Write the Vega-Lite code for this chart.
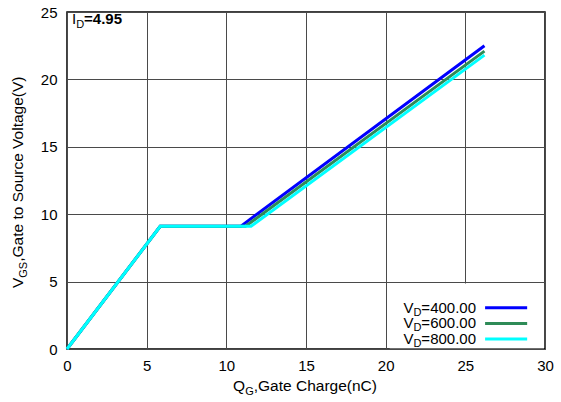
{
  "$schema": "https://vega.github.io/schema/vega-lite/v6.json",
  "width": 478,
  "height": 337,
  "autosize": {"type": "none"},
  "padding": {"left": 67, "top": 12, "right": 16, "bottom": 53},
  "background": "white",
  "config": {
    "font": "Liberation Sans",
    "view": {"stroke": "black", "strokeWidth": 1.5},
    "text": {"color": "black", "font": "Liberation Sans"},
    "axis": {
      "domain": false, "ticks": false, "labelFontSize": 15, "labelColor": "black",
      "labelFlush": false, "gridColor": "#4a4a4a", "gridWidth": 1, "gridOpacity": 1
    },
    "axisX": {"labelPadding": 9},
    "axisY": {"labelPadding": 10}
  },
  "datasets": {
    "curves": [
      {"vd": "400", "qg": 0, "vgs": 0},
      {"vd": "400", "qg": 5.85, "vgs": 9.1},
      {"vd": "400", "qg": 10.9, "vgs": 9.1},
      {"vd": "400", "qg": 26.2, "vgs": 22.5},
      {"vd": "600", "qg": 0, "vgs": 0},
      {"vd": "600", "qg": 5.85, "vgs": 9.1},
      {"vd": "600", "qg": 11.2, "vgs": 9.1},
      {"vd": "600", "qg": 26.2, "vgs": 22.1},
      {"vd": "800", "qg": 0, "vgs": 0},
      {"vd": "800", "qg": 5.85, "vgs": 9.1},
      {"vd": "800", "qg": 11.55, "vgs": 9.1},
      {"vd": "800", "qg": 26.2, "vgs": 21.8}
    ]
  },
  "data": {"values": [{}]},
  "layer": [
    {
      "data": {"name": "curves"},
      "mark": {"type": "line", "strokeWidth": 3, "strokeCap": "butt"},
      "encoding": {
        "x": {
          "field": "qg", "type": "quantitative", "title": null,
          "scale": {"domain": [0, 30], "nice": false, "zero": false},
          "axis": {"title": null, "values": [0, 5, 10, 15, 20, 25, 30]}
        },
        "y": {
          "field": "vgs", "type": "quantitative", "title": null,
          "scale": {"domain": [0, 25], "nice": false, "zero": false},
          "axis": {"title": null, "values": [0, 5, 10, 15, 20, 25]}
        },
        "color": {
          "field": "vd", "type": "nominal",
          "scale": {"domain": ["400", "600", "800"], "range": ["#0000ff", "#2e8b57", "#00ffff"]},
          "legend": null
        },
        "detail": {"field": "vd"}
      }
    },
    {
      "mark": {"type": "rect", "fill": "white", "stroke": null},
      "encoding": {
        "x": {"datum": 20.25, "type": "quantitative", "title": null},
        "x2": {"datum": 29.94},
        "y": {"datum": 0.06, "type": "quantitative", "title": null},
        "y2": {"datum": 4.85}
      }
    },
    {
      "mark": {"type": "rule", "strokeWidth": 3, "color": "#0000ff"},
      "encoding": {
        "x": {"datum": 26.24, "type": "quantitative", "title": null},
        "x2": {"datum": 28.88},
        "y": {"datum": 3.06, "type": "quantitative", "title": null}
      }
    },
    {
      "mark": {"type": "rule", "strokeWidth": 3, "color": "#2e8b57"},
      "encoding": {
        "x": {"datum": 26.24, "type": "quantitative", "title": null},
        "x2": {"datum": 28.88},
        "y": {"datum": 1.9, "type": "quantitative", "title": null}
      }
    },
    {
      "mark": {"type": "rule", "strokeWidth": 3, "color": "#00ffff"},
      "encoding": {
        "x": {"datum": 26.24, "type": "quantitative", "title": null},
        "x2": {"datum": 28.88},
        "y": {"datum": 0.74, "type": "quantitative", "title": null}
      }
    },
    {
      "mark": {"type": "text", "text": "=400.00", "fontSize": 15, "align": "right", "baseline": "middle"},
      "encoding": {
        "x": {"datum": 25.67, "type": "quantitative", "title": null},
        "y": {"datum": 3.06, "type": "quantitative", "title": null}
      }
    },
    {
      "mark": {"type": "text", "text": "D", "fontSize": 11, "align": "right", "baseline": "middle", "dx": -54.6, "dy": 5},
      "encoding": {
        "x": {"datum": 25.67, "type": "quantitative", "title": null},
        "y": {"datum": 3.06, "type": "quantitative", "title": null}
      }
    },
    {
      "mark": {"type": "text", "text": "V", "fontSize": 15, "align": "right", "baseline": "middle", "dx": -62.5},
      "encoding": {
        "x": {"datum": 25.67, "type": "quantitative", "title": null},
        "y": {"datum": 3.06, "type": "quantitative", "title": null}
      }
    },
    {
      "mark": {"type": "text", "text": "=600.00", "fontSize": 15, "align": "right", "baseline": "middle"},
      "encoding": {
        "x": {"datum": 25.67, "type": "quantitative", "title": null},
        "y": {"datum": 1.9, "type": "quantitative", "title": null}
      }
    },
    {
      "mark": {"type": "text", "text": "D", "fontSize": 11, "align": "right", "baseline": "middle", "dx": -54.6, "dy": 5},
      "encoding": {
        "x": {"datum": 25.67, "type": "quantitative", "title": null},
        "y": {"datum": 1.9, "type": "quantitative", "title": null}
      }
    },
    {
      "mark": {"type": "text", "text": "V", "fontSize": 15, "align": "right", "baseline": "middle", "dx": -62.5},
      "encoding": {
        "x": {"datum": 25.67, "type": "quantitative", "title": null},
        "y": {"datum": 1.9, "type": "quantitative", "title": null}
      }
    },
    {
      "mark": {"type": "text", "text": "=800.00", "fontSize": 15, "align": "right", "baseline": "middle"},
      "encoding": {
        "x": {"datum": 25.67, "type": "quantitative", "title": null},
        "y": {"datum": 0.74, "type": "quantitative", "title": null}
      }
    },
    {
      "mark": {"type": "text", "text": "D", "fontSize": 11, "align": "right", "baseline": "middle", "dx": -54.6, "dy": 5},
      "encoding": {
        "x": {"datum": 25.67, "type": "quantitative", "title": null},
        "y": {"datum": 0.74, "type": "quantitative", "title": null}
      }
    },
    {
      "mark": {"type": "text", "text": "V", "fontSize": 15, "align": "right", "baseline": "middle", "dx": -62.5},
      "encoding": {
        "x": {"datum": 25.67, "type": "quantitative", "title": null},
        "y": {"datum": 0.74, "type": "quantitative", "title": null}
      }
    },
    {
      "mark": {"type": "text", "text": "I", "fontSize": 15, "align": "left", "baseline": "alphabetic"},
      "encoding": {
        "x": {"datum": 0.31, "type": "quantitative", "title": null},
        "y": {"datum": 24.1, "type": "quantitative", "title": null}
      }
    },
    {
      "mark": {"type": "text", "text": "D", "fontSize": 11, "align": "left", "baseline": "alphabetic", "dx": 4.2, "dy": 4},
      "encoding": {
        "x": {"datum": 0.31, "type": "quantitative", "title": null},
        "y": {"datum": 24.1, "type": "quantitative", "title": null}
      }
    },
    {
      "mark": {"type": "text", "text": "=4.95", "fontSize": 15, "fontWeight": "bold", "align": "left", "baseline": "alphabetic", "dx": 12.1},
      "encoding": {
        "x": {"datum": 0.31, "type": "quantitative", "title": null},
        "y": {"datum": 24.1, "type": "quantitative", "title": null}
      }
    },
    {
      "mark": {"type": "text", "text": "Q", "fontSize": 15.5, "align": "left", "baseline": "alphabetic"},
      "encoding": {
        "x": {"datum": 10.42, "type": "quantitative", "title": null},
        "y": {"datum": -3.12, "type": "quantitative", "title": null}
      }
    },
    {
      "mark": {"type": "text", "text": "G", "fontSize": 11, "align": "left", "baseline": "alphabetic", "dx": 12.1, "dy": 4},
      "encoding": {
        "x": {"datum": 10.42, "type": "quantitative", "title": null},
        "y": {"datum": -3.12, "type": "quantitative", "title": null}
      }
    },
    {
      "mark": {"type": "text", "text": ",Gate Charge(nC)", "fontSize": 15.5, "align": "left", "baseline": "alphabetic", "dx": 20.7},
      "encoding": {
        "x": {"datum": 10.42, "type": "quantitative", "title": null},
        "y": {"datum": -3.12, "type": "quantitative", "title": null}
      }
    },
    {
      "mark": {"type": "text", "text": "V", "fontSize": 15.5, "angle": 270, "align": "left", "baseline": "alphabetic"},
      "encoding": {
        "x": {"datum": -2.76, "type": "quantitative", "title": null},
        "y": {"datum": 4.52, "type": "quantitative", "title": null}
      }
    },
    {
      "mark": {"type": "text", "text": "GS", "fontSize": 11, "angle": 270, "align": "left", "baseline": "alphabetic", "dx": 10.3, "dy": 4},
      "encoding": {
        "x": {"datum": -2.76, "type": "quantitative", "title": null},
        "y": {"datum": 4.52, "type": "quantitative", "title": null}
      }
    },
    {
      "mark": {"type": "text", "text": ",Gate to Source Voltage(V)", "fontSize": 15.5, "angle": 270, "align": "left", "baseline": "alphabetic", "dx": 26.3},
      "encoding": {
        "x": {"datum": -2.76, "type": "quantitative", "title": null},
        "y": {"datum": 4.52, "type": "quantitative", "title": null}
      }
    }
  ]
}
